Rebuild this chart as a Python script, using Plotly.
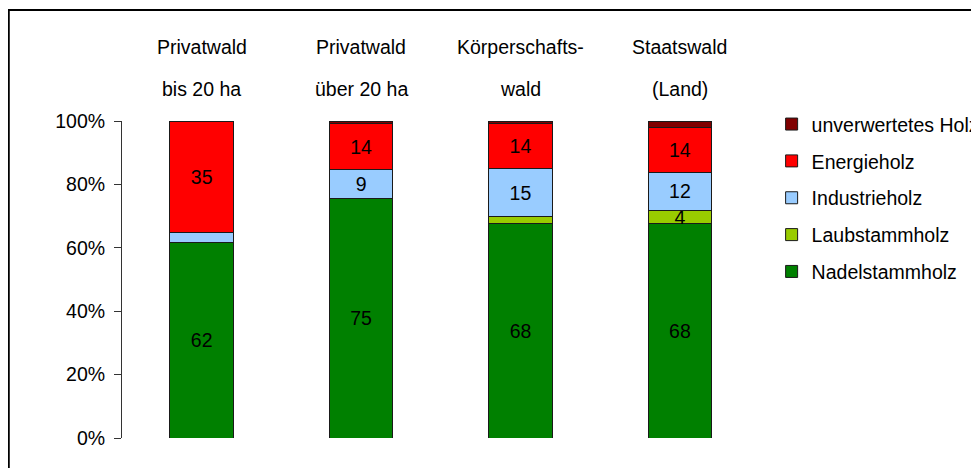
import plotly.graph_objects as go

# Holzsortimente nach Waldbesitzart (Anteile in %)
categories = ["Privatwald bis 20 ha", "Privatwald über 20 ha", "Körperschaftswald", "Staatswald (Land)"]
header_top = ["Privatwald", "Privatwald", "Körperschafts-", "Staatswald"]
header_bottom = ["bis 20 ha", "über 20 ha", "wald", "(Land)"]

nadel = [61.8, 75.6, 67.6, 67.6]
laub = [0.0, 0.0, 2.2, 4.1]
industrie = [3.0, 9.2, 15.1, 12.2]
energie = [35.2, 14.3, 14.2, 13.9]
unverwertet = [0.0, 0.9, 0.9, 2.2]

nadel_labels = ["62", "75", "68", "68"]
laub_labels = ["", "", "", "4"]
industrie_labels = ["", "9", "15", "12"]
energie_labels = ["35", "14", "14", "14"]
unverwertet_labels = ["", "", "", ""]

FONT = "Liberation Sans, Arial, sans-serif"
FS = 19.5

series = [
    ("Nadelstammholz", nadel, nadel_labels, "#008000"),
    ("Laubstammholz", laub, laub_labels, "#99CC00"),
    ("Industrieholz", industrie, industrie_labels, "#99CCFF"),
    ("Energieholz", energie, energie_labels, "#FF0000"),
    ("unverwertetes Holz", unverwertet, unverwertet_labels, "#800000"),
]

fig = go.Figure()
for i, (name, vals, labels, color) in enumerate(series):
    fig.add_trace(
        go.Bar(
            x=categories,
            y=[v / 100 for v in vals],
            name=name,
            legendgroup=name,
            legendrank=1000 - i,  # top of the stack first in the legend
            text=labels,
            textposition="inside",
            insidetextanchor="middle",
            textangle=0,
            constraintext="none",
            textfont=dict(family=FONT, size=FS, color="black"),
            marker=dict(color=color, line=dict(color="#1a1a1a", width=1)),
            hoverinfo="name+y",
        )
    )

# Category headers above the bars (two lines, wide spacing)
for cat, top, bottom in zip(categories, header_top, header_bottom):
    fig.add_annotation(x=cat, y=1.233, xref="x", yref="paper", text=top,
                       showarrow=False, yanchor="middle",
                       font=dict(family=FONT, size=FS, color="black"))
    fig.add_annotation(x=cat, y=1.101, xref="x", yref="paper", text=bottom,
                       showarrow=False, yanchor="middle",
                       font=dict(family=FONT, size=FS, color="black"))

# Outer frame (right and bottom edges fall outside the picture)
fig.add_shape(type="rect", xref="paper", yref="paper",
              x0=-0.1776, x1=1.6, y0=-0.6, y1=1.35,
              line=dict(color="black", width=2), layer="below")

fig.update_layout(
    width=979,
    height=468,
    barmode="stack",
    bargap=0.6,
    margin=dict(l=114, r=226, t=113, b=38),
    plot_bgcolor="white",
    paper_bgcolor="white",
    font=dict(family=FONT, size=FS, color="black"),
    showlegend=True,
    legend=dict(
        xref="container", yref="container",
        x=0.780, y=0.793, xanchor="left", yanchor="top",
        traceorder="grouped",
        tracegroupgap=8.5,
        font=dict(family=FONT, size=FS, color="black"),
        bgcolor="rgba(0,0,0,0)",
    ),
)
fig.update_xaxes(type="category", range=[-0.5, 3.5], showticklabels=False,
                 showline=False, ticks="", showgrid=False, zeroline=False)
fig.update_yaxes(range=[0, 1], tickformat=".0%", dtick=0.2, tick0=0,
                 ticks="outside", ticklen=7, tickcolor="#333",
                 ticklabelstandoff=5,
                 showline=True, linecolor="#333", linewidth=1,
                 showgrid=False, zeroline=False,
                 tickfont=dict(family=FONT, size=FS, color="black"))

fig.write_html("out.html")
